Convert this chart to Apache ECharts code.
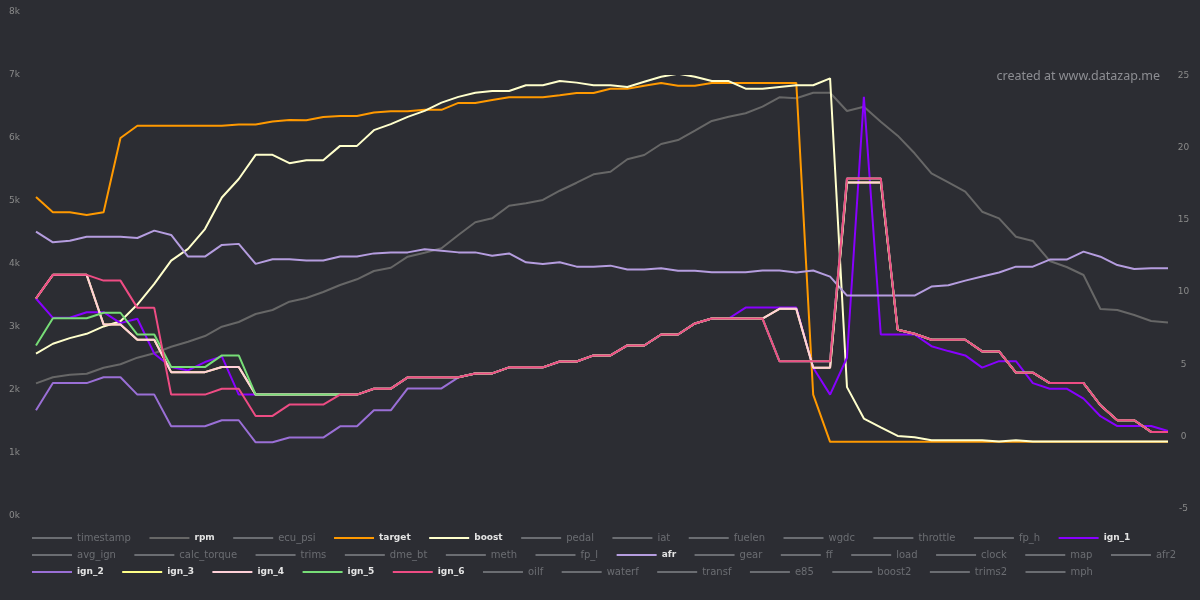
<!DOCTYPE html>
<html><head><meta charset="utf-8">
<script src="https://cdn.jsdelivr.net/npm/echarts@6/dist/echarts.min.js"></script>
<style>html,body{margin:0;padding:0;background:#2c2d33}#c{width:1200px;height:600px}</style>
</head><body><div id="c"></div>
<script>
const categories = [1,2,3,4,5,6,7,8,9,10,11,12,13,14,15,16,17,18,19,20,21,22,23,24,25,26,27,28,29,30,31,32,33,34,35,36,37,38,39,40,41,42,43,44,45,46,47,48,49,50,51,52,53,54,55,56,57,58,59,60,61,62,63,64,65,66,67,68];

const rpm = [2106,2202,2243,2259,2354,2408,2513,2583,2687,2767,2857,3005,3079,3206,3270,3402,3460,3556,3667,3757,3889,3941,4116,4179,4249,4460,4662,4725,4925,4963,5016,5163,5290,5424,5465,5662,5730,5905,5968,6116,6270,6338,6392,6497,6646,6630,6719,6719,6429,6497,6259,6037,5757,5440,5297,5148,4830,4725,4433,4365,4048,3952,3825,3286,3270,3190,3095,3071];

const target = [16.6,15.55,15.55,15.35,15.55,20.7,21.55,21.55,21.55,21.55,21.55,21.55,21.63,21.63,21.84,21.95,21.93,22.16,22.23,22.23,22.46,22.56,22.56,22.65,22.65,23.13,23.13,23.34,23.53,23.53,23.53,23.66,23.82,23.82,24.12,24.12,24.33,24.52,24.33,24.33,24.52,24.52,24.52,24.52,24.52,24.52,2.89,-0.39,-0.39,-0.39,-0.39,-0.39,-0.39,-0.39,-0.39,-0.39,-0.39,-0.39,-0.39,-0.39,-0.39,-0.39,-0.39,-0.39,-0.39,-0.39,-0.39,-0.39];

const boost = [5.73,6.42,6.81,7.11,7.62,7.98,9.14,10.57,12.19,13.0,14.38,16.57,17.85,19.53,19.53,18.95,19.16,19.16,20.15,20.15,21.24,21.66,22.16,22.58,23.15,23.55,23.84,23.96,23.96,24.36,24.36,24.65,24.54,24.36,24.36,24.24,24.6,24.95,25.16,24.95,24.65,24.65,24.12,24.12,24.24,24.36,24.36,24.84,3.41,1.23,0.62,0.02,-0.07,-0.28,-0.28,-0.28,-0.28,-0.37,-0.28,-0.37,-0.37,-0.37,-0.37,-0.37,-0.37,-0.37,-0.37,-0.37];

const afr = [14.20,13.46,13.57,13.85,13.85,13.85,13.76,14.27,13.97,12.47,12.47,13.28,13.35,11.96,12.28,12.28,12.19,12.19,12.47,12.47,12.69,12.76,12.76,12.97,12.88,12.76,12.76,12.53,12.69,12.07,11.96,12.07,11.77,11.77,11.84,11.57,11.57,11.66,11.48,11.48,11.38,11.38,11.38,11.50,11.50,11.36,11.50,11.08,9.76,9.76,9.76,9.76,9.76,10.39,10.48,10.80,11.08,11.36,11.77,11.77,12.26,12.26,12.81,12.46,11.88,11.60,11.66,11.66];

const ign1 = [9.56,8.22,8.22,8.61,8.61,7.85,8.15,5.73,4.80,4.57,5.15,5.54,2.89,2.89,2.89,2.89,2.89,2.89,2.89,2.89,3.30,3.30,4.09,4.09,4.09,4.09,4.36,4.36,4.78,4.78,4.78,5.19,5.19,5.61,5.61,6.30,6.30,7.06,7.06,7.83,8.17,8.17,8.93,8.93,8.93,8.93,4.76,2.89,5.45,23.55,7.06,7.06,7.06,6.25,5.91,5.61,4.76,5.21,5.21,3.69,3.30,3.30,2.61,1.39,0.71,0.71,0.71,0.37];

const ign2 = [1.80,3.69,3.69,3.69,4.09,4.09,2.89,2.89,0.69,0.69,0.69,1.11,1.11,-0.42,-0.42,-0.09,-0.09,-0.09,0.69,0.69,1.80,1.80,3.32,3.32,3.32,4.09,4.36,4.36,4.78,4.78,4.78,5.19,5.19,5.61,5.61,6.30,6.30,7.06,7.06,7.83,8.17,8.17,8.17,8.17,5.21,5.21,5.21,5.21,17.89,17.89,17.89,7.39,7.11,6.70,6.70,6.70,5.89,5.89,4.41,4.41,3.69,3.69,3.69,2.15,1.11,1.11,0.30,0.30];

const ign3 = [9.56,11.20,11.20,11.20,7.76,7.76,6.70,6.70,4.45,4.45,4.45,4.80,4.80,2.89,2.89,2.89,2.89,2.89,2.89,2.89,3.30,3.30,4.09,4.09,4.09,4.09,4.36,4.36,4.78,4.78,4.78,5.19,5.19,5.61,5.61,6.30,6.30,7.06,7.06,7.83,8.17,8.17,8.17,8.17,8.84,8.84,4.76,4.76,17.61,17.61,17.61,7.39,7.11,6.70,6.70,6.70,5.89,5.89,4.41,4.41,3.69,3.69,3.69,2.15,1.11,1.11,0.30,0.30];

const ign4 = [9.56,11.20,11.20,11.20,7.76,7.76,6.70,6.70,4.45,4.45,4.45,4.80,4.80,2.89,2.89,2.89,2.89,2.89,2.89,2.89,3.30,3.30,4.09,4.09,4.09,4.09,4.36,4.36,4.78,4.78,4.78,5.19,5.19,5.61,5.61,6.30,6.30,7.06,7.06,7.83,8.17,8.17,8.17,8.17,8.84,8.84,4.76,4.76,17.61,17.61,17.61,7.39,7.11,6.70,6.70,6.70,5.89,5.89,4.41,4.41,3.69,3.69,3.69,2.15,1.11,1.11,0.30,0.30];

const ign5 = [6.30,8.19,8.19,8.19,8.57,8.57,7.06,7.06,4.80,4.80,4.80,5.61,5.61,2.89,2.89,2.89,2.89,2.89,2.89,2.89,3.30,3.30,4.09,4.09,4.09,4.09,4.36,4.36,4.78,4.78,4.78,5.19,5.19,5.61,5.61,6.30,6.30,7.06,7.06,7.83,8.17,8.17,8.17,8.17,5.21,5.21,5.21,5.21,17.89,17.89,17.89,7.39,7.11,6.70,6.70,6.70,5.89,5.89,4.41,4.41,3.69,3.69,3.69,2.15,1.11,1.11,0.30,0.30];

const ign6 = [9.56,11.20,11.20,11.20,10.80,10.80,8.91,8.91,2.89,2.89,2.89,3.30,3.30,1.41,1.41,2.20,2.20,2.20,2.89,2.89,3.30,3.30,4.09,4.09,4.09,4.09,4.36,4.36,4.78,4.78,4.78,5.19,5.19,5.61,5.61,6.30,6.30,7.06,7.06,7.83,8.17,8.17,8.17,8.17,5.21,5.21,5.21,5.21,17.89,17.89,17.89,7.39,7.11,6.70,6.70,6.70,5.89,5.89,4.41,4.41,3.69,3.69,3.69,2.15,1.11,1.11,0.30,0.30];

const legendRow1 = ['timestamp','rpm','ecu_psi','target','boost','pedal','iat','fuelen','wgdc','throttle','fp_h','ign_1'];
const legendRow2 = ['avg_ign','calc_torque','trims','dme_bt','meth','fp_l','afr','gear','ff','load','clock','map','afr2'];
const legendRow3 = ['ign_2','ign_3','ign_4','ign_5','ign_6','oilf','waterf','transf','e85','boost2','trims2','mph'];
const seriesOrder = ['timestamp','rpm','ecu_psi','target','boost','pedal','iat','fuelen','wgdc','throttle','fp_h','ign_1','avg_ign','calc_torque','trims','dme_bt','meth','fp_l','afr','gear','ff','load','clock','map','afr2','ign_2','ign_3','ign_4','ign_5','ign_6','oilf','waterf','transf','e85','boost2','trims2','mph'];

const visible = {
  rpm:    {data: rpm,    color: '#676767', axis: 0},
  target: {data: target, color: '#ff9900', axis: 1},
  boost:  {data: boost,  color: '#ffffcc', axis: 1},
  ign_1:  {data: ign1,   color: '#8800ff', axis: 1},
  afr:    {data: afr,    color: '#b59ddf', axis: 1},
  ign_2:  {data: ign2,   color: '#9a6fd6', axis: 1},
  ign_3:  {data: ign3,   color: '#ffff88', axis: 1},
  ign_4:  {data: ign4,   color: '#ffd0d8', axis: 1},
  ign_5:  {data: ign5,   color: '#77dd77', axis: 1},
  ign_6:  {data: ign6,   color: '#ee4c84', axis: 1}
};

const selected = {};
seriesOrder.forEach(n => { selected[n] = !!visible[n]; });

const series = seriesOrder.map(n => {
  const v = visible[n];
  const ax = v ? v.axis : 0;
  return {
    name: n, type: 'line', symbol: 'none', silent: true,
    xAxisIndex: ax, yAxisIndex: ax,
    data: v ? v.data : [],
    color: v ? v.color : '#777',
    itemStyle: {color: v ? v.color : '#777'},
    lineStyle: {width: 2, color: v ? v.color : '#777'},
    emphasis: {disabled: true}
  };
});

function makeLegend(names, top) {
  return {
    type: 'plain', left: 32, top: top, padding: 0, itemGap: 18.5,
    itemWidth: 40, itemHeight: 14, orient: 'horizontal',
    icon: 'path://M0,0H40V2H0Z',
    itemStyle: {borderWidth: 0},
    inactiveColor: '#6b6d72', inactiveBorderColor: '#6b6d72', inactiveBorderWidth: 0,
    textStyle: {color: '#e4e4e4', fontFamily: 'DejaVu Sans', fontSize: 10},
    selected: selected,
    data: names.map(n => ({name: n, textStyle: visible[n] ? {fontWeight: 'bold', fontSize: 9} : {fontWeight: 'normal', fontSize: 10}}))
  };
}

const chart = echarts.init(document.getElementById('c'), null, {renderer: 'canvas'});
chart.setOption({
  backgroundColor: '#2c2d33',
  animation: false,
  legend: [makeLegend(legendRow1, 533), makeLegend(legendRow2, 550), makeLegend(legendRow3, 567)],
  grid: [
    {left: 36, right: 32, top: 12, bottom: 84},
    {left: 36, right: 32, top: 76, bottom: 91.7}
  ],
  xAxis: [
    {type: 'category', gridIndex: 0, data: categories, boundaryGap: false, show: false},
    {type: 'category', gridIndex: 1, data: categories, boundaryGap: false, show: false}
  ],
  yAxis: [
    {type: 'value', gridIndex: 0, min: 0, max: 8000, interval: 1000,
     axisLine: {show: false}, axisTick: {show: false}, splitLine: {show: false},
     axisLabel: {color: '#8a8a8a', fontFamily: 'DejaVu Sans', fontSize: 9, margin: 16,
       formatter: v => (v / 1000) + 'k'}},
    {type: 'value', gridIndex: 1, position: 'right', min: -5, max: 25, interval: 5,
     axisLine: {show: false}, axisTick: {show: false}, splitLine: {show: false},
     axisLabel: {color: '#8a8a8a', fontFamily: 'DejaVu Sans', fontSize: 9, margin: 15.5, align: 'center'}}
  ],
  graphic: [{
    type: 'text', right: 40, top: 70,
    style: {text: 'created at www.datazap.me', fill: '#8d8e93', font: '12.5px "Noto Sans"', textAlign: 'right'}
  }],
  series: series
});
</script></body></html>
